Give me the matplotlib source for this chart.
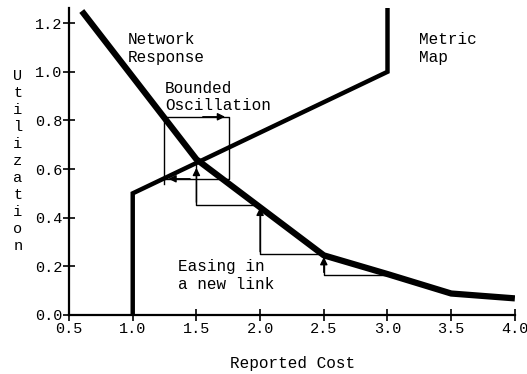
import matplotlib.pyplot as plt

plt.rcParams['font.family'] = ['Liberation Mono', 'DejaVu Sans Mono']

# Network response curve: utilization vs reported cost
resp_cost = [0.6, 1.5, 2.5, 3.0, 3.5, 4.0]
resp_util = [1.25, 0.64, 0.245, 0.168, 0.088, 0.068]

# Metric map: reported cost vs utilization
map_cost = [1.0, 1.0, 3.0, 3.0]
map_util = [0.0, 0.5, 1.0, 1.27]

# Bounded oscillation box
osc_left, osc_right = 1.246, 1.756
osc_bottom, osc_top = 0.56, 0.815

# Easing-in staircase (cost, utilization) corners
ease_cost = [3.0, 2.5, 2.5, 2.0, 2.0, 1.5, 1.5]
ease_util = [0.165, 0.165, 0.25, 0.25, 0.453, 0.453, 0.617]

xticks = [0.5, 1.0, 1.5, 2.0, 2.5, 3.0, 3.5, 4.0]
yticks = [0.0, 0.2, 0.4, 0.6, 0.8, 1.0, 1.2]

fig = plt.figure(figsize=(5.27, 3.74), dpi=100)
ax = fig.add_axes([0.131, 0.158, 0.846, 0.821])

ax.plot(resp_cost, resp_util, color='black', lw=4.5, solid_joinstyle='round',
        solid_capstyle='butt', zorder=3)
ax.plot(map_cost, map_util, color='black', lw=3.2, solid_joinstyle='miter',
        solid_capstyle='butt', zorder=3)

thin = dict(color='black', lw=1.0, zorder=2)
arrow = dict(arrowstyle='-|>', color='black', lw=1.0, mutation_scale=11,
             shrinkA=0, shrinkB=0)

# oscillation rectangle with direction arrows
ax.plot([osc_left, osc_left, osc_right, osc_right, osc_left],
        [osc_bottom - 0.02, osc_top, osc_top, osc_bottom, osc_bottom], **thin)
ax.annotate('', xy=(1.725, osc_top), xytext=(1.55, osc_top), arrowprops=arrow)
ax.annotate('', xy=(1.28, osc_bottom), xytext=(1.45, osc_bottom), arrowprops=arrow)

# staircase with upward arrows at each step
ax.plot(ease_cost, ease_util, **thin)
for i in (2, 4, 6):
    ax.annotate('', xy=(ease_cost[i], ease_util[i] - 0.012),
                xytext=(ease_cost[i], ease_util[i - 1] + 0.01), arrowprops=arrow)

fs = 11.5
ax.text(0.963, 1.165, 'Network\nResponse', fontsize=fs, va='top', linespacing=1.3)
ax.text(1.254, 0.962, 'Bounded\nOscillation', fontsize=fs, va='top', linespacing=1.2)
ax.text(3.25, 1.165, 'Metric\nMap', fontsize=fs, va='top', linespacing=1.3)
ax.text(1.356, 0.228, 'Easing in\na new link', fontsize=fs, va='top', linespacing=1.2)

ax.set_xlim(0.5, 4.0)
ax.set_ylim(0.0, 1.263)
ax.set_xticks(xticks)
ax.set_yticks(yticks)
ax.set_xticklabels([f'{v:.1f}' for v in xticks])
ax.set_yticklabels([f'{v:.1f}' for v in yticks])
ax.tick_params(direction='inout', length=8, width=1.2, labelsize=11, pad=1)
for side in ('top', 'right'):
    ax.spines[side].set_visible(False)
for side in ('left', 'bottom'):
    ax.spines[side].set_linewidth(1.6)

fig.text(0.034, 0.815, '\n'.join('Utilization'), fontsize=11, ha='center',
         va='top', linespacing=1.27)
fig.text(0.555, 0.008, 'Reported Cost', fontsize=11.5, ha='center', va='bottom')

fig.savefig('out.png', dpi=100)
